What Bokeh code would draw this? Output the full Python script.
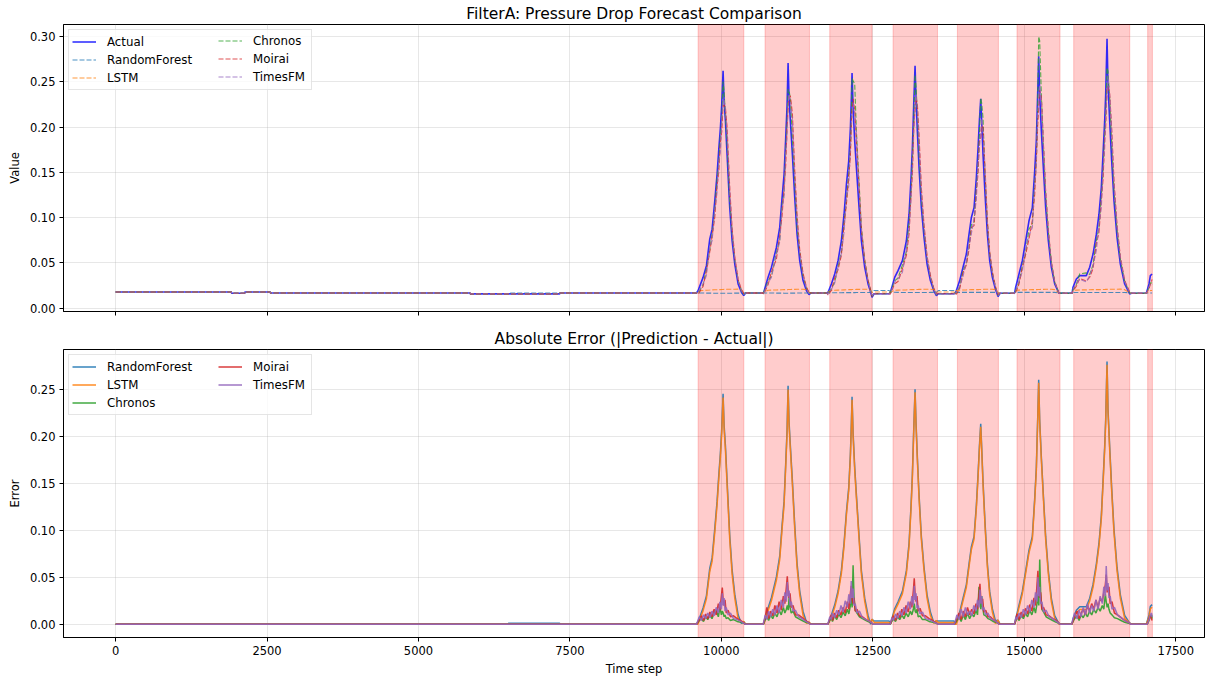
import numpy as np
from bokeh.plotting import figure
from bokeh.layouts import column
from bokeh.models import (BoxAnnotation, FixedTicker, NumeralTickFormatter, Legend,
                          LegendItem, Range1d, ColumnDataSource)
from bokeh.embed import file_html
from bokeh.resources import INLINE

# ---------------- data ----------------
time_step = [
    0, 1910, 1915, 2130, 2135, 2550, 2555, 5850, 5855, 6480, 6485, 7330, 7335,
    9588, 9616, 9698, 9753, 9808, 9847, 9891, 9929, 9957, 9984, 10006, 10028, 10045, 10067, 10094, 10138, 10177, 10221, 10276, 10331, 10369, 10400,
    10690,
    10699, 10771, 10826, 10908, 10963, 11002, 11035, 11062, 11084, 11101, 11117, 11139, 11172, 11211, 11249, 11293, 11348, 11403, 11447, 11480,
    11740, 11761, 11816, 11871, 11926, 11981, 12025, 12064, 12102, 12130, 12146, 12157, 12174, 12201, 12229, 12273, 12311, 12366, 12421, 12465, 12487,
    12520, 12770,
    12790, 12861, 12916, 12988, 13054, 13098, 13131, 13153, 13175, 13197, 13213, 13235, 13263, 13301, 13345, 13395, 13450, 13505, 13549, 13580,
    13840,
    13852, 13879, 13934, 13989, 14044, 14088, 14127, 14171, 14209, 14237, 14259, 14281, 14297, 14319, 14352, 14391, 14429, 14473, 14523, 14567, 14600,
    14830,
    14842, 14858, 14913, 14968, 15023, 15078, 15133, 15172, 15199, 15221, 15238, 15254, 15282, 15315, 15353, 15397, 15447, 15502, 15573,
    15780,
    15788, 15804, 15860, 15915, 16024, 16080, 16135, 16190, 16233, 16272, 16300, 16327, 16344, 16366, 16382, 16410, 16443, 16481, 16531, 16586, 16657, 16740, 16770,
    17010,
    17015, 17059, 17081, 17110,
]

actual = [
    .0180, .0180, .0165, .0165, .0180, .0180, .0169, .0169, .0158, .0158, .0158, .0158, .0169,
    .0169, .0195, .0341, .0470, .0763, .0873, .1185, .1478, .1753, .1992, .2248, .2622, .2285, .2065, .1698, .1111, .0745, .0488, .0268, .0176, .0140, .0169,
    .0169,
    .0176, .0341, .0451, .0671, .0892, .1221, .1478, .1882, .2230, .2707, .2322, .2065, .1698, .1221, .0818, .0525, .0305, .0195, .0151, .0169,
    .0169, .0176, .0268, .0378, .0525, .0745, .1038, .1368, .1625, .1992, .2322, .2597, .2212, .1845, .1552, .1111, .0745, .0452, .0268, .0176, .0121,
    .0160, .0160,
    .0176, .0341, .0415, .0525, .0745, .1038, .1442, .1772, .2248, .2677, .2322, .1955, .1552, .1111, .0782, .0488, .0305, .0195, .0140, .0160,
    .0160,
    .0165, .0195, .0305, .0452, .0598, .0818, .1002, .1112, .1442, .1772, .2065, .2311, .2065, .1698, .1258, .0818, .0525, .0341, .0213, .0129, .0165,
    .0165,
    .0176, .0232, .0378, .0525, .0745, .0965, .1111, .1515, .1845, .2358, .2780, .2358, .1955, .1552, .1111, .0745, .0452, .0268, .0165,
    .0165,
    .0165, .0232, .0323, .0360, .0360, .0452, .0598, .0818, .1038, .1332, .1698, .2065, .2358, .2974, .2468, .2065, .1625, .1185, .0782, .0488, .0268, .0158, .0165,
    .0165,
    .0165, .0268, .0360, .0378,
]

rf_pred = [
    .0180, .0180, .0165, .0165, .0180, .0180, .0169, .0169, .0158, .0158, .0169, .0169, .0169,
    .0169, .0168, .0168, .0167, .0167, .0166, .0166, .0166, .0165, .0165, .0165, .0165, .0165, .0165, .0166, .0166, .0166, .0167, .0167, .0168, .0168, .0169,
    .0169,
    .0169, .0168, .0168, .0167, .0167, .0167, .0166, .0166, .0166, .0166, .0166, .0167, .0167, .0167, .0168, .0168, .0168, .0169, .0169, .0169,
    .0169, .0170, .0170, .0171, .0171, .0171, .0172, .0172, .0172, .0172, .0172, .0172, .0172, .0172, .0173, .0173, .0173, .0174, .0174, .0175, .0175,
    .0195, .0195,
    .0180, .0176, .0175, .0174, .0174, .0173, .0173, .0173, .0173, .0173, .0173, .0173, .0173, .0174, .0174, .0174, .0175, .0175, .0176, .0195,
    .0195,
    .0176, .0175, .0175, .0175, .0175, .0175, .0175, .0175, .0175, .0175, .0175, .0175, .0175, .0175, .0175, .0175, .0175, .0175, .0175, .0172, .0165,
    .0165,
    .0172, .0175, .0175, .0175, .0175, .0175, .0175, .0175, .0175, .0175, .0175, .0175, .0175, .0175, .0175, .0175, .0175, .0175, .0170,
    .0165,
    .0170, .0174, .0174, .0174, .0174, .0174, .0174, .0174, .0174, .0174, .0174, .0174, .0174, .0174, .0174, .0174, .0174, .0174, .0174, .0174, .0174, .0170, .0165,
    .0165,
    .0166, .0168, .0169, .0169,
]

lstm_pred = [
    .0180, .0180, .0165, .0165, .0180, .0180, .0169, .0169, .0158, .0158, .0158, .0158, .0169,
    .0169, .0190, .0196, .0199, .0201, .0203, .0204, .0205, .0206, .0206, .0207, .0207, .0208, .0208, .0209, .0209, .0210, .0210, .0211, .0200, .0170, .0169,
    .0169,
    .0176, .0198, .0200, .0202, .0203, .0204, .0205, .0205, .0206, .0206, .0207, .0207, .0208, .0208, .0209, .0209, .0210, .0205, .0175, .0169,
    .0169, .0180, .0195, .0198, .0200, .0202, .0203, .0204, .0205, .0205, .0206, .0206, .0207, .0207, .0208, .0208, .0209, .0209, .0210, .0195, .0175,
    .0180, .0180,
    .0176, .0198, .0200, .0202, .0203, .0204, .0205, .0205, .0206, .0206, .0207, .0207, .0208, .0208, .0209, .0209, .0210, .0205, .0180, .0180,
    .0180,
    .0165, .0195, .0200, .0202, .0203, .0204, .0205, .0205, .0206, .0206, .0207, .0207, .0208, .0208, .0209, .0209, .0210, .0210, .0205, .0175, .0165,
    .0165,
    .0176, .0198, .0200, .0202, .0203, .0204, .0205, .0205, .0206, .0206, .0207, .0207, .0208, .0208, .0209, .0209, .0210, .0205, .0168,
    .0165,
    .0165, .0195, .0200, .0202, .0203, .0204, .0205, .0205, .0206, .0206, .0207, .0207, .0208, .0208, .0209, .0209, .0210, .0210, .0210, .0211, .0205, .0170, .0165,
    .0165,
    .0165, .0190, .0195, .0196,
]

# signed deviation of each foundation-model forecast from the actual value (top panel)
chronos_dev = [
    0, 0, 0, 0, 0, 0, 0, 0, 0, 0, 0, 0, 0,
    0, -.003, -.008, -.004, -.012, -.006, -.010, -.005, -.015, -.008, -.018, -.012, .010, .006, .012, .007, .009, .005, .004, .002, .001, 0,
    0,
    0, -.004, -.010, -.006, -.014, -.008, -.020, -.012, -.016, -.029, .008, .025, .018, .016, .008, .010, .005, .003, .002, 0,
    0, -.002, -.005, -.009, -.006, -.013, -.010, -.018, -.014, -.024, -.020, -.006, .030, .063, .040, .028, .015, .008, .004, .002, .001,
    0, 0,
    0, -.004, -.008, -.005, -.012, -.009, -.016, -.011, -.020, -.010, .012, .022, .015, .010, .008, .006, .004, .002, .001, 0,
    0,
    0, -.003, -.007, -.004, -.010, -.014, -.008, -.016, -.012, -.020, -.015, .001, .020, .040, .022, .012, .008, .005, .002, .001, 0,
    0,
    0, -.004, -.009, -.006, -.013, -.009, -.018, -.013, -.022, -.015, .022, .060, .040, .025, .015, .010, .005, .002, 0,
    0,
    0, -.003, -.006, .002, .003, -.008, -.012, -.007, -.015, -.010, -.020, -.014, -.025, -.032, .015, .025, .020, .012, .008, .005, .003, .001, 0,
    0,
    0, -.004, -.008, -.010,
]

moirai_dev = [
    0, 0, 0, 0, 0, 0, 0, 0, 0, 0, 0, 0, 0,
    0, -.004, -.010, -.006, -.014, -.008, -.018, -.012, -.025, -.015, -.030, -.039, -.004, .015, .030, .022, .014, .008, .005, .003, .002, 0,
    0,
    -.002, -.008, -.005, -.013, -.009, -.020, -.015, -.030, -.024, -.051, .000, .028, .045, .030, .022, .012, .008, .004, .002, 0,
    0, -.003, -.007, -.004, -.010, -.016, -.012, -.022, -.018, -.030, -.025, -.041, .010, .035, .028, .022, .012, .007, .004, .002, .001,
    0, 0,
    -.002, -.007, -.012, -.009, -.016, -.022, -.018, -.030, -.026, -.049, .000, .030, .036, .022, .014, .009, .006, .003, .002, 0,
    0,
    0, -.004, -.009, -.006, -.012, -.017, -.011, -.020, -.015, -.028, -.022, -.043, -.005, .030, .025, .015, .010, .006, .003, .002, 0,
    0,
    -.002, -.006, -.011, -.008, -.015, -.020, -.014, -.026, -.020, -.035, -.057, .005, .038, .028, .018, .012, .006, .003, 0,
    0,
    0, -.004, -.008, -.003, -.006, -.011, -.016, -.010, -.020, -.014, -.028, -.020, -.035, -.053, -.002, .030, .036, .022, .014, .008, .004, .002, 0,
    0,
    0, -.005, -.010, -.006,
]

timesfm_dev = [
    0, 0, 0, 0, 0, 0, 0, 0, 0, 0, 0, 0, 0,
    0, -.002, -.007, -.011, -.009, -.013, -.010, -.020, -.014, -.026, -.018, -.033, .002, .012, .025, .018, .010, .006, .004, .002, .001, 0,
    0,
    -.001, -.006, -.011, -.008, -.016, -.012, -.025, -.018, -.033, -.045, .004, .022, .038, .024, .018, .009, .006, .003, .001, 0,
    0, -.002, -.006, -.010, -.007, -.014, -.020, -.015, -.028, -.022, -.034, -.046, .005, .030, .036, .020, .014, .006, .003, .001, .001,
    0, 0,
    -.001, -.005, -.009, -.013, -.010, -.018, -.024, -.020, -.033, -.041, .004, .025, .030, .018, .012, .007, .004, .002, .001, 0,
    0,
    0, -.002, -.006, -.010, -.008, -.013, -.018, -.012, -.024, -.018, -.030, -.037, .002, .025, .030, .014, .009, .005, .002, .001, 0,
    0,
    -.001, -.004, -.008, -.012, -.009, -.016, -.022, -.016, -.028, -.022, -.048, .010, .033, .026, .016, .010, .005, .002, 0,
    0,
    0, -.002, -.005, -.004, -.007, -.009, -.013, -.018, -.012, -.022, -.016, -.030, -.024, -.062, .010, .028, .032, .018, .012, .006, .003, .001, 0,
    0,
    0, -.003, -.009, -.012,
]

# absolute errors of the foundation models
err_time = [
    0, 9590,
    9600, 9635, 9670, 9705, 9740, 9775, 9810, 9845, 9880, 9915, 9950, 9975, 10000, 10015, 10030, 10045, 10060, 10080, 10110, 10150, 10200, 10260, 10320, 10380,
    10390, 10690,
    10700, 10725, 10750, 10780, 10813, 10848, 10883, 10918, 10953, 10988, 11023, 11048, 11073, 11088, 11103, 11118, 11133, 11153, 11183, 11223, 11273, 11333, 11393, 11453,
    11470, 11755,
    11765, 11790, 11815, 11834, 11869, 11904, 11939, 11974, 12009, 12044, 12079, 12104, 12129, 12144, 12159, 12174, 12189, 12209, 12239, 12279, 12329, 12389, 12449, 12490,
    12500, 12785,
    12795, 12815, 12839, 12874, 12909, 12944, 12979, 13014, 13049, 13084, 13119, 13144, 13169, 13184, 13199, 13214, 13229, 13249, 13279, 13319, 13369, 13429, 13489, 13555,
    13570, 13845,
    13855, 13888, 13923, 13958, 13993, 14028, 14063, 14098, 14133, 14168, 14203, 14228, 14253, 14268, 14283, 14298, 14313, 14333, 14363, 14400, 14440, 14485, 14530, 14570,
    14585, 14835,
    14845, 14862, 14880, 14915, 14950, 14985, 15020, 15055, 15090, 15125, 15160, 15185, 15210, 15225, 15240, 15255, 15270, 15290, 15320, 15360, 15410, 15470, 15530, 15575,
    15595, 15780,
    15790, 15830, 15870, 15905, 15938, 15973, 16008, 16043, 16078, 16113, 16148, 16183, 16218, 16253, 16288, 16313, 16338, 16353, 16368, 16383, 16398, 16418, 16448, 16488, 16538, 16598, 16658, 16718, 16745,
    16755, 17025,
    17037, 17060, 17080, 17100, 17110,
]

chronos_err = [
    0, 0,
    .001, .004, .006, .003, .008, .005, .010, .006, .012, .015, .008, .018, .010, .014, .012, .008, .010, .006, .007, .004, .005, .003, .002, .001,
    0, 0,
    .001, .005, .008, .004, .010, .006, .012, .008, .015, .010, .018, .012, .016, .020, .015, .029, .018, .012, .014, .008, .006, .004, .002, .001,
    0, 0,
    .001, .004, .007, .003, .009, .005, .011, .007, .013, .009, .016, .011, .020, .028, .018, .063, .030, .015, .012, .008, .006, .004, .002, .001,
    0, 0,
    .001, .003, .006, .003, .008, .005, .010, .006, .012, .008, .014, .010, .016, .022, .014, .012, .016, .008, .009, .005, .005, .003, .002, .001,
    0, 0,
    .001, .004, .008, .003, .010, .005, .012, .006, .011, .008, .015, .010, .040, .024, .016, .030, .018, .010, .009, .006, .005, .003, .002, .001,
    0, 0,
    .001, .004, .008, .004, .010, .006, .012, .008, .015, .010, .018, .012, .022, .032, .020, .069, .034, .016, .013, .008, .006, .004, .002, .001,
    0, 0,
    .001, .006, .009, .004, .010, .007, .012, .008, .014, .010, .016, .012, .018, .014, .020, .016, .032, .024, .018, .022, .016, .012, .010, .007, .006, .004, .002, .001, .001,
    0, 0,
    .001, .004, .008, .010, .006,
]

moirai_err = [
    0, 0,
    .001, .005, .009, .004, .011, .006, .013, .008, .016, .010, .022, .015, .030, .039, .025, .020, .026, .012, .015, .008, .009, .006, .004, .001,
    0, 0,
    .002, .008, .018, .006, .014, .009, .020, .012, .024, .015, .030, .022, .040, .051, .035, .028, .033, .018, .020, .010, .010, .007, .004, .001,
    0, 0,
    .001, .006, .010, .004, .012, .007, .015, .010, .018, .012, .024, .016, .033, .041, .026, .022, .028, .014, .016, .009, .008, .005, .003, .001,
    0, 0,
    .001, .005, .009, .004, .012, .007, .016, .010, .020, .013, .024, .018, .036, .049, .030, .024, .030, .014, .017, .009, .009, .006, .004, .001,
    0, 0,
    .001, .006, .012, .005, .014, .008, .018, .010, .016, .011, .022, .016, .032, .043, .027, .022, .027, .013, .015, .008, .008, .005, .003, .001,
    0, 0,
    .001, .006, .011, .005, .013, .008, .017, .011, .021, .014, .028, .020, .042, .057, .034, .028, .034, .016, .018, .010, .009, .006, .004, .001,
    0, 0,
    .001, .008, .014, .006, .012, .016, .010, .020, .014, .022, .016, .026, .018, .028, .024, .034, .042, .053, .034, .038, .040, .022, .024, .012, .010, .007, .004, .002, .001,
    0, 0,
    .001, .006, .009, .006, .004,
]

timesfm_err = [
    0, 0,
    .002, .008, .004, .010, .006, .012, .007, .014, .009, .018, .012, .024, .016, .033, .020, .028, .014, .018, .010, .012, .006, .005, .003, .001,
    0, 0,
    .003, .010, .005, .014, .008, .016, .010, .020, .012, .026, .018, .034, .024, .045, .030, .036, .020, .024, .014, .015, .008, .006, .003, .001,
    0, 0,
    .002, .008, .005, .012, .007, .015, .010, .020, .013, .025, .018, .032, .022, .046, .028, .038, .020, .022, .012, .014, .007, .005, .003, .001,
    0, 0,
    .002, .007, .004, .011, .006, .014, .009, .018, .012, .024, .016, .030, .020, .041, .026, .033, .017, .020, .011, .013, .006, .005, .003, .001,
    0, 0,
    .002, .010, .005, .016, .008, .018, .010, .014, .009, .020, .014, .026, .018, .037, .022, .030, .015, .018, .010, .012, .006, .005, .003, .001,
    0, 0,
    .002, .008, .005, .012, .007, .016, .010, .020, .013, .026, .018, .034, .024, .050, .030, .040, .022, .024, .013, .015, .008, .006, .003, .001,
    0, 0,
    .002, .012, .006, .015, .008, .018, .010, .022, .012, .020, .014, .026, .016, .030, .022, .040, .030, .062, .036, .044, .028, .030, .016, .018, .010, .007, .004, .002, .001,
    0, 0,
    .001, .005, .010, .012, .008,
]

# anomaly windows (shaded)
anomaly_start = [9616, 10721, 11789, 12834, 13896, 14880, 15816, 17037]
anomaly_end = [10370, 11454, 12487, 13567, 14573, 15590, 16741, 17115]

x_ticks = [0, 2500, 5000, 7500, 10000, 12500, 15000, 17500]
value_ticks = [0.0, 0.05, 0.10, 0.15, 0.20, 0.25, 0.30]
error_ticks = [0.0, 0.05, 0.10, 0.15, 0.20, 0.25]

model_names = ["RandomForest", "LSTM", "Chronos", "Moirai", "TimesFM"]
model_colors = ["#1f77b4", "#ff7f0e", "#2ca02c", "#d62728", "#9467bd"]

# ---------------- build ----------------
n = len(time_step)
for arr in (actual, rf_pred, lstm_pred, chronos_dev, moirai_dev, timesfm_dev):
    assert len(arr) == n, (len(arr), n)
m = len(err_time)
for arr in (chronos_err, moirai_err, timesfm_err):
    assert len(arr) == m, (len(arr), m)

t = np.array(time_step, dtype=float)
act = np.array(actual)
rf = np.array(rf_pred)
lstm = np.array(lstm_pred)
top = {
    "t": t, "actual": act,
    "pred_RandomForest": rf,
    "pred_LSTM": lstm,
    "pred_Chronos": act + np.array(chronos_dev),
    "pred_Moirai": act + np.array(moirai_dev),
    "pred_TimesFM": act + np.array(timesfm_dev),
    "err_RandomForest": np.abs(rf - act),
    "err_LSTM": np.abs(lstm - act),
}
src = ColumnDataSource(top)
esrc = ColumnDataSource({"t": err_time, "err_Chronos": chronos_err,
                         "err_Moirai": moirai_err, "err_TimesFM": timesfm_err})

FONT = "DejaVu Sans"
xr = Range1d(-860, 17975)
TOP_H, BOT_H = 325, 355
BORDER_T, TOP_BORDER_B, BOT_BORDER_B = 23, 14, 43


def style(p, yticks):
    p.title.text_font = FONT
    p.title.text_font_size = "15.5px"
    p.title.text_font_style = "normal"
    p.title.text_color = "black"
    p.title.align = "center"
    p.title.standoff = 4
    for ax in (p.xaxis[0], p.yaxis[0]):
        ax.axis_line_color = "black"
        ax.major_tick_line_color = "black"
        ax.major_tick_out = 4
        ax.major_tick_in = 0
        ax.minor_tick_line_color = None
        ax.major_label_text_font = FONT
        ax.major_label_text_font_size = "11.5px"
        ax.major_label_text_color = "black"
        ax.major_label_standoff = 4
        ax.axis_label_text_font = FONT
        ax.axis_label_text_font_size = "11.5px"
        ax.axis_label_text_font_style = "normal"
        ax.axis_label_text_color = "black"
        ax.axis_label_standoff = 5
    p.xaxis.ticker = FixedTicker(ticks=x_ticks)
    p.yaxis.ticker = FixedTicker(ticks=yticks)
    p.yaxis.formatter = NumeralTickFormatter(format="0.00")
    p.grid.grid_line_color = "#b0b0b0"
    p.grid.grid_line_alpha = 0.3
    p.grid.grid_line_width = 1
    p.outline_line_color = "black"
    p.outline_line_alpha = 1
    p.outline_line_width = 1
    p.background_fill_color = "white"
    p.border_fill_color = "white"
    for s, e in zip(anomaly_start, anomaly_end):
        p.add_layout(BoxAnnotation(left=s, right=e, fill_color="red", fill_alpha=0.2,
                                   line_color="red", line_alpha=0.2, line_width=1,
                                   level="underlay"))


PAD, ROW_H, SPACING, MARGIN = 3, 17, 1, 5


def legend_common(leg):
    leg.label_text_font = FONT
    leg.label_text_font_size = "11.8px"
    leg.label_text_color = "black"
    leg.label_height = ROW_H
    leg.glyph_height = ROW_H
    leg.glyph_width = 24
    leg.label_standoff = 11
    leg.spacing = SPACING
    leg.padding = PAD
    return leg


def add_legends(p, col1, col2, frame_h):
    # first column carries the framed box that spans both columns
    a = legend_common(Legend(items=col1, location="top_left"))
    a.margin = MARGIN
    a.label_width = 201
    a.border_line_color = "#cccccc"
    a.border_line_width = 1
    a.background_fill_color = "white"
    a.background_fill_alpha = 0.8
    p.add_layout(a)
    # second column, no frame, placed at the matplotlib column offset
    hb = 2 * PAD + len(col2) * ROW_H + (len(col2) - 1) * SPACING
    b = legend_common(Legend(items=col2, location=(155, frame_h - MARGIN - hb + len(col2) - 1)))
    b.margin = 0
    b.border_line_color = None
    b.background_fill_alpha = 0
    p.add_layout(b)


# ---- top panel ----
p1 = figure(width=1208, height=TOP_H, x_range=xr, y_range=Range1d(-0.0036, 0.3132),
            output_backend="svg", toolbar_location=None,
            title="FilterA: Pressure Drop Forecast Comparison",
            min_border_left=63, min_border_right=4, min_border_top=BORDER_T,
            min_border_bottom=TOP_BORDER_B)
style(p1, value_ticks)
p1.yaxis.axis_label = "Value"
# shared x axis: ticks only, no labels on the upper panel
p1.xaxis.major_label_text_color = None
p1.xaxis.major_label_text_font_size = "2px"
p1.xaxis.major_label_standoff = 0

items1 = []
r = p1.line("t", "actual", source=src, line_color="blue", line_width=1.6, line_alpha=0.8)
items1.append(LegendItem(label="Actual", renderers=[r]))
for name, col in zip(model_names, model_colors):
    r = p1.line("t", "pred_" + name, source=src, line_color=col, line_width=1.1,
                line_alpha=0.8, line_dash="5 2")
    items1.append(LegendItem(label=name, renderers=[r]))
add_legends(p1, items1[:3], items1[3:], TOP_H - BORDER_T - TOP_BORDER_B)

# ---- bottom panel ----
p2 = figure(width=1208, height=BOT_H, x_range=xr, y_range=Range1d(-0.0141, 0.2928),
            output_backend="svg", toolbar_location=None,
            title="Absolute Error (|Prediction - Actual|)",
            min_border_left=63, min_border_right=4, min_border_top=BORDER_T,
            min_border_bottom=BOT_BORDER_B)
style(p2, error_ticks)
p2.yaxis.axis_label = "Error"
p2.xaxis.axis_label = "Time step"
p2.xaxis.axis_label_standoff = 4

items2 = []
for name, col in zip(model_names, model_colors):
    s = src if name in ("RandomForest", "LSTM") else esrc
    r = p2.line("t", "err_" + name, source=s, line_color=col, line_width=1.5, line_alpha=0.9)
    items2.append(LegendItem(label=name, renderers=[r]))
add_legends(p2, items2[:3], items2[3:], BOT_H - BORDER_T - BOT_BORDER_B)

layout = column(p1, p2, spacing=0)
open("out.html", "w").write(file_html(layout, INLINE))
